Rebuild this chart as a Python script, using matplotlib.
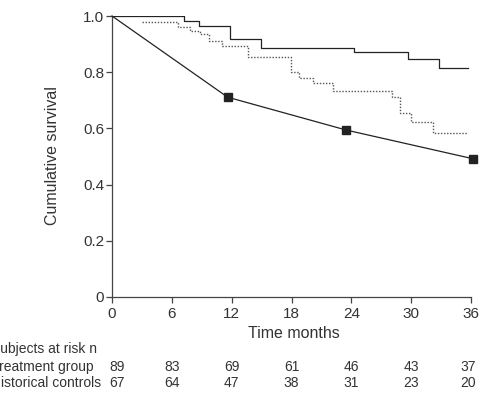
import matplotlib
matplotlib.use("Agg")
import matplotlib.pyplot as plt

plt.rcParams['font.family'] = ['Liberation Sans', 'DejaVu Sans']

# ---- data ----
treat_t = [0, 7.2, 8.7, 11.8, 14.9, 24.3, 29.7, 32.8, 35.7]
treat_s = [1.0, 0.983, 0.964, 0.917, 0.887, 0.871, 0.848, 0.814, 0.814]

ctrl_t = [3.0, 6.6, 7.8, 8.8, 9.7, 11.0, 13.6, 17.9, 18.8, 20.2, 22.2, 28.1, 28.9, 30.0, 32.2, 35.7]
ctrl_s = [0.977, 0.962, 0.947, 0.935, 0.911, 0.893, 0.853, 0.802, 0.778, 0.761, 0.733, 0.713, 0.654, 0.623, 0.585, 0.585]

hist_t = [0, 11.6, 23.5, 36.2]
hist_s = [1.0, 0.711, 0.594, 0.492]

xticks = [0, 6, 12, 18, 24, 30, 36]
yticks = [0, 0.2, 0.4, 0.6, 0.8, 1.0]
ytick_labels = ['0', '0.2', '0.4', '0.6', '0.8', '1.0']

risk_header = 'Subjects at risk n'
risk_rows = ['Treatment group', 'Historical controls']
risk_treat = [89, 83, 69, 61, 46, 43, 37]
risk_ctrl = [67, 64, 47, 38, 31, 23, 20]

# ---- figure ----
W, H = 485, 400
fig = plt.figure(figsize=(W / 100, H / 100), dpi=100)
ax = fig.add_axes([112 / W, 1 - 297 / H, (471 - 112) / W, (297 - 16) / H])

col = '#222222'
tcol = '#333333'

ax.plot(treat_t, treat_s, drawstyle='steps-post', color=col, lw=0.9)
ax.plot(ctrl_t, ctrl_s, drawstyle='steps-post', color='#555555', lw=1.0,
        linestyle=(0, (1, 1.2)))
ax.plot(hist_t, hist_s, color=col, lw=0.9, marker='s', markersize=6,
        markevery=[1, 2, 3], clip_on=False, zorder=3)

ax.set_xlim(0, 36)
ax.set_ylim(0, 1)
for s in ['top', 'right']:
    ax.spines[s].set_visible(False)
for s in ['left', 'bottom']:
    ax.spines[s].set_color('#444444')
    ax.spines[s].set_linewidth(0.9)

ax.set_xticks(xticks)
ax.set_xticklabels([str(v) for v in xticks])
ax.set_yticks(yticks)
ax.set_yticklabels(ytick_labels)
ax.tick_params(axis='both', direction='out', length=4.5, width=0.9,
               color='#444444', labelsize=11, labelcolor=tcol)
ax.tick_params(axis='y', pad=1)
ax.tick_params(axis='x', pad=3)

fig.text(53 / W, 1 - 156 / H, 'Cumulative survival', rotation=90,
         ha='center', va='center', fontsize=11.5, color=tcol)
fig.text((112 + 471) / 2 / W + 0.005, 1 - 338 / H, 'Time months', ha='center',
         va='baseline', fontsize=11.5, color=tcol)

# risk table
lx = -9 / W
fig.text(lx, 1 - 353 / H, risk_header, ha='left', va='baseline', fontsize=10, color=tcol)
fig.text(lx, 1 - 371 / H, risk_rows[0], ha='left', va='baseline', fontsize=10, color=tcol)
fig.text(lx, 1 - 387 / H, risk_rows[1], ha='left', va='baseline', fontsize=10, color=tcol)

offsets = [0.5, 0, 0, 0, 0, 0, -0.3]
trans = ax.get_xaxis_transform()
for m, off, a, b in zip(xticks, offsets, risk_treat, risk_ctrl):
    xf = (112 + (m + off) * (471 - 112) / 36) / W
    fig.text(xf, 1 - 371 / H, str(a), ha='center', va='baseline', fontsize=10, color=tcol)
    fig.text(xf, 1 - 387 / H, str(b), ha='center', va='baseline', fontsize=10, color=tcol)

fig.savefig('out.png', dpi=100)
